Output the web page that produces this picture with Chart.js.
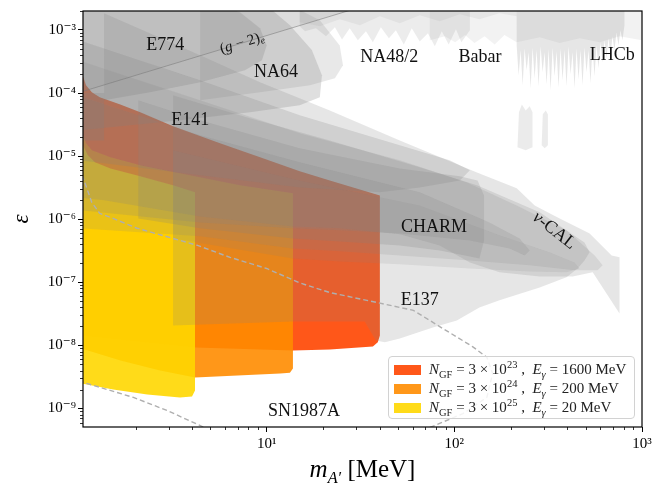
<!DOCTYPE html>
<html><head><meta charset="utf-8">
<script src="https://cdn.jsdelivr.net/npm/chart.js@4.4.1/dist/chart.umd.min.js"></script>
<style>
html,body{margin:0;padding:0;background:#fff;}
#wrap{position:relative;width:664px;height:496px;overflow:hidden;}
#xtitle{position:absolute;left:83px;width:559px;top:454px;text-align:center;font-family:'Liberation Serif',serif;font-size:25px;line-height:30px;color:#000;}
#xtitle sub{font-size:65%;line-height:0;vertical-align:-0.35em;}
#legend{position:absolute;left:388px;top:356px;width:247px;height:63px;box-sizing:border-box;border:1px solid #d2d2d2;border-radius:4px;background:rgba(255,255,255,0.85);font-family:'Liberation Serif',serif;font-size:15px;color:#222;}
#legend .row{position:absolute;left:5px;height:19px;display:flex;align-items:center;white-space:nowrap;}
#legend .sw{display:inline-block;width:27px;height:10px;margin-right:8px;}
#legend sub,#legend sup{font-size:70%;line-height:0;}
</style></head><body>
<div id="wrap">
<canvas id="c" width="664" height="496"></canvas>
<div id="xtitle"><i>m</i><sub><i>A′</i></sub> [MeV]</div>
<div id="legend">
 <div class="row" style="top:3px"><span class="sw" style="background:rgba(255,69,0,0.9)"></span><span><i>N</i><sub>GF</sub> = 3 × 10<sup>23</sup> , &nbsp;<i>E</i><sub><i>γ</i></sub> = 1600 MeV</span></div>
 <div class="row" style="top:22px"><span class="sw" style="background:rgba(255,140,0,0.9)"></span><span><i>N</i><sub>GF</sub> = 3 × 10<sup>24</sup> , &nbsp;<i>E</i><sub><i>γ</i></sub> = 200 MeV</span></div>
 <div class="row" style="top:41px"><span class="sw" style="background:rgba(255,215,0,0.9)"></span><span><i>N</i><sub>GF</sub> = 3 × 10<sup>25</sup> , &nbsp;<i>E</i><sub><i>γ</i></sub> = 20 MeV</span></div>
</div>
</div>
<script>
// ---------- axes ----------
const X_MIN = 1.05, X_MAX = 1000, Y_MIN = 5.1e-10, Y_MAX = 2.0e-3;
const xMajor = [10, 100, 1000];
const xMajorLabels = ['10¹', '10²', '10³'];
const yMajor = [1e-9, 1e-8, 1e-7, 1e-6, 1e-5, 1e-4, 1e-3];
const yMajorLabels = ['10⁻⁹', '10⁻⁸', '10⁻⁷', '10⁻⁶', '10⁻⁵', '10⁻⁴', '10⁻³'];

// ---------- projected sensitivity regions [m (MeV), epsilon] ----------
const regionN23 = [[1.0,1.9e-4],[1.05,1.85e-4],[1.09,1.33e-4],[1.17,1.03e-4],[1.29,8.6e-5],[1.66,6.6e-5],[2.12,4.95e-5],[3.17,2.97e-5],[5.64,1.6e-5],[9.22,9.6e-6],[15.0,5.75e-6],[21.7,4.1e-6],[40.1,2.39e-6],[40.1,1.44e-8],[39.1,1.12e-8],[36.8,9.6e-9],[21.7,8.6e-9],[13.8,8.3e-9],[4.15,9.3e-9],[1.0,1.45e-8]];
const regionN24 = [[1.0,2.3e-5],[1.05,2.14e-5],[1.09,1.6e-5],[1.17,1.24e-5],[1.47,9.6e-6],[2.12,7.2e-6],[3.45,5.35e-6],[7.21,3.45e-6],[13.8,2.58e-6],[13.8,4.3e-9],[13.3,3.7e-9],[11.8,3.6e-9],[4.15,3.1e-9],[2.7,4.0e-9],[1.66,5.8e-9],[1.0,9.2e-9]];
const regionN25 = [[1.0,1.6e-5],[1.05,1.49e-5],[1.114,1.03e-5],[1.216,7.98e-6],[1.47,6.4e-6],[2.12,4.8e-6],[3.17,3.45e-6],[4.15,2.67e-6],[4.15,1.93e-9],[4.0,1.55e-9],[3.45,1.5e-9],[2.31,1.67e-9],[1.52,2.0e-9],[1.0,2.55e-9]];

// ---------- existing bounds [m (MeV), epsilon] ----------
const boundE137 = [[3.17,9.2e-5],[8.15,3.98e-5],[21.7,1.78e-5],[65.4,6.65e-6],[132,3.45e-6],[285,1.29e-6],[494,4.3e-7],[526,2.99e-7],[494,2.23e-7],[454,1.66e-7],[396,1.2e-7],[285,8.3e-8],[174,5.2e-8],[136,4.0e-8],[103,2.49e-8],[76.8,1.93e-8],[51.2,1.29e-8],[42.6,1.12e-8],[38.2,1.2e-8],[35.5,1.73e-8],[33.3,2.4e-8],[13.8,2.4e-8],[3.17,2.08e-8]];
const boundNuCal = [[1.36,3e-3],[1.36,1.84e-3],[4.42,3.97e-4],[9.22,1.48e-4],[21.7,5.3e-5],[51.2,1.78e-5],[132,5.5e-6],[215,3.09e-6],[268,1.66e-6],[364,1.03e-6],[526,5.97e-7],[689,2.67e-7],[759,2.49e-7],[759,3.22e-8],[546,1.44e-7],[427,1.24e-7],[285,1.24e-7],[174,1.44e-7],[121,2.07e-7],[83.6,3.85e-7],[51.2,5.77e-7],[24.5,7.2e-7],[13.8,7.7e-7],[4.42,1.11e-6],[1.36,2.0e-6],[1.0,2.2e-6],[1.0,1.0e-4],[1.36,1.0e-4]];
const boundBandC = [[1.0,3.3e-4],[4.42,7.7e-5],[15.0,2.3e-5],[51.2,8.6e-6],[116,3.85e-6],[215,1.66e-6],[396,6.7e-7],[560,2.67e-7],[617,1.86e-7],[580,1.55e-7],[437,1.55e-7],[252,1.86e-7],[121,2.23e-7],[51.2,2.67e-7],[24.5,3.1e-7],[13.8,3.45e-7],[4.42,5.36e-7],[1.0,7.2e-7]];
const boundCHARM = [[2.07,7.7e-5],[4.42,3.7e-5],[15.0,1.33e-5],[51.2,6.4e-6],[107,4.8e-6],[133,4.1e-6],[144,2.39e-6],[144,4.6e-7],[136,2.4e-7],[121,2.58e-7],[83.6,3.2e-7],[51.2,3.85e-7],[24.5,4.45e-7],[13.8,4.97e-7],[4.42,7.2e-7],[2.07,1.03e-6]];
const boundInner = [[1.0,9.0e-5],[4.42,2.14e-5],[15.0,7.98e-6],[65.4,2.67e-6],[154,8.9e-7],[223,4.97e-7],[252,3.2e-7],[237,2.67e-7],[197,3.45e-7],[121,4.6e-7],[51.2,5.97e-7],[24.5,6.7e-7],[13.8,7.2e-7],[4.42,8.9e-7],[1.0,1.4e-6]];
const boundTip = [[3.17,1.24e-5],[15.0,4.1e-6],[65.4,1.66e-6],[174,5.6e-7],[322,2.99e-7],[437,2.07e-7],[465,1.66e-7],[396,1.44e-7],[252,1.49e-7],[121,1.66e-7],[51.2,1.93e-7],[24.5,2.15e-7],[13.8,2.4e-7],[3.17,4.97e-7]];
const boundE141 = [[1.0,6.9e-4],[4.42,1.6e-4],[15.0,4.45e-5],[51.2,1.49e-5],[94.4,8.6e-6],[121,6.0e-6],[107,4.1e-6],[65.4,3.2e-6],[40.1,2.67e-6],[15.0,3.2e-6],[4.42,4.97e-6],[1.36,7.7e-6],[1.0,8.6e-6]];
const boundE774 = [[1.36,3e-3],[4.42,3e-3],[7.21,1.91e-3],[9.22,1.07e-3],[10.0,5.7e-4],[9.44,3.3e-4],[7.66,2.3e-4],[4.42,1.48e-4],[2.39,1.03e-4],[1.36,7.7e-5]];
const boundNA64a = [[1.0,3e-3],[9.22,3e-3],[13.3,1.19e-3],[17.4,4.8e-4],[19.7,1.91e-4],[19.2,8.6e-5],[15.0,6.4e-5],[8.15,4.95e-5],[3.45,3.7e-5],[1.0,2.57e-5]];
const boundNA64b = [[4.42,3e-3],[11.8,3e-3],[19.2,1.43e-3],[24.5,5.7e-4],[25.5,2.76e-4],[23.1,1.72e-4],[17.0,1.33e-4],[9.22,1.03e-4],[4.42,7.7e-5]];
const boundLeft = [[1.0,3e-3],[1.36,3e-3],[1.36,1.78e-5],[1.0,1.78e-5]];
const boundG2 = [[1.0,1.02e-4],[30,2.2e-3],[30,3e-3],[1.0,3e-3]];
const lineG2 = [[1.0,1.02e-4],[30,2.2e-3]];
const boundNA48 = [[15.0,3e-3],[121,3e-3],[121,9.9e-4],[109,6.4e-4],[102,1.03e-3],[93.3,5.9e-4],[85.7,9.55e-4],[78.7,5.5e-4],[72.3,8.9e-4],[65.4,6.6e-4],[59.3,1.07e-3],[53.8,5.9e-4],[48.8,9.9e-4],[44.8,7.4e-4],[40.6,1.11e-3],[36.8,6.4e-4],[33.8,9.55e-4],[30.6,6.9e-4],[27.7,1.07e-3],[25.2,7.1e-4],[23.1,1.11e-3],[20.7,7.96e-4],[18.3,1.07e-3],[16.0,9.55e-4],[15.0,1.15e-3]];
const boundNA48top = [[15.0,3e-3],[215,3e-3],[215,1.65e-3],[174,1.84e-3],[136,1.48e-3],[107,1.78e-3],[83.6,1.38e-3],[65.4,1.71e-3],[51.2,1.28e-3],[40.1,1.65e-3],[31.4,1.19e-3],[24.5,1.48e-3],[19.2,1.15e-3],[15.0,1.33e-3]];
const boundBabar = [[74,3e-3],[1000,3e-3],[1000,6.9e-4],[759,7.96e-4],[594,6.4e-4],[465,7.4e-4],[364,6.2e-4],[285,7.7e-4],[215,6.4e-4],[185,8.3e-4],[164,5.9e-4],[145,7.96e-4],[128,6.2e-4],[114,8.3e-4],[101,6.4e-4],[89,7.96e-4],[74,6.9e-4]];
const boundLHCb = [[214.8,3e-3],[806.4,3e-3],[806.4,1.19e-3],[786.9,6.9e-4],[767.8,9.9e-4],[749.2,5.73e-4],[731.1,9.2e-4],[713.4,4.8e-4],[696.1,7.96e-4],[679.3,3.97e-4],[662.8,7.4e-4],[646.8,3.56e-4],[631.1,6.9e-4],[615.9,3.08e-4],[601.0,6.4e-4],[586.4,2.47e-4],[572.2,5.73e-4],[558.4,1.85e-4],[544.9,5.5e-4],[531.7,1.43e-4],[518.8,4.8e-4],[506.3,2.14e-4],[494.0,5.3e-4],[482.1,1.33e-4],[470.4,4.8e-4],[459.0,1.66e-4],[447.9,5.1e-4],[437.1,1.19e-4],[426.5,4.43e-4],[416.2,1.99e-4],[406.1,5.5e-4],[396.3,1.28e-4],[386.7,4.8e-4],[377.3,1.6e-4],[368.2,5.1e-4],[359.3,1.24e-4],[350.6,4.6e-4],[342.1,1.85e-4],[333.9,5.3e-4],[325.8,1.11e-4],[317.9,4.95e-4],[310.2,1.38e-4],[302.7,4.43e-4],[295.4,2.14e-4],[288.2,5.5e-4],[281.2,1.28e-4],[274.4,4.8e-4],[267.8,1.72e-4],[261.3,5.3e-4],[255.0,1.19e-4],[248.8,4.43e-4],[242.8,2.3e-4],[236.9,5.1e-4],[231.2,1.33e-4],[225.6,4.8e-4],[220.1,1.91e-4],[214.8,5.73e-4]];
const boundLHCbIsl1 = [[217,1.38e-5],[221,4.95e-5],[229,6.6e-5],[240,5.3e-5],[252,6.2e-5],[261,4.95e-5],[261,1.38e-5],[240,1.24e-5]];
const boundLHCbIsl2 = [[292,1.49e-5],[296,4.6e-5],[307,5.3e-5],[315,4.6e-5],[315,1.49e-5],[303,1.33e-5]];
const lineSNupper = [[1.0,6.5e-6],[1.05,4.6e-6],[1.17,1.85e-6],[1.29,1.24e-6],[1.52,1.03e-6],[2.04,7.2e-7],[3.17,4.97e-7],[4.28,3.85e-7],[6.38,2.49e-7],[10,1.66e-7],[15,9.8e-8],[21.7,6.9e-8],[38.6,4.8e-8],[60.5,3.6e-8],[86.7,1.86e-8],[125,9.6e-9],[149,6.5e-9],[160,3.6e-9],[149,1.5e-9],[111,8.3e-10],[74,5e-10],[51,3.2e-10]];
const lineSNlower = [[1.0,2.8e-9],[1.05,2.6e-9],[1.30,2.16e-9],[1.95,1.5e-9],[2.95,9.3e-10],[4.4,5.4e-10],[5.3,4.2e-10]];

// ---------- region labels ----------
const labelText = ['E774', 'NA64', 'E141', 'NA48/2', 'Babar', 'LHCb', 'CHARM', 'E137', 'SN1987A'];
const labelMass = [2.88, 11.2, 3.92, 45, 137, 695, 78, 65.4, 15.8];
const labelEps = [5.7e-4, 2.14e-4, 3.7e-5, 3.7e-4, 3.7e-4, 4.0e-4, 7.4e-7, 5.2e-8, 9.0e-10];

const GRAY = a => `rgba(128,128,128,${a})`;
const layers = [
  {d: regionN23, c: 'rgba(255,69,0,0.9)'},
  {d: regionN24, c: 'rgba(255,140,0,0.9)'},
  {d: regionN25, c: 'rgba(255,215,0,0.9)'},
  {d: boundE137, c: GRAY(0.2)},
  {d: boundTip, c: GRAY(0.14)},
  {d: boundBandC, c: GRAY(0.17)},
  {d: boundCHARM, c: GRAY(0.21)},
  {d: boundInner, c: GRAY(0.2)},
  {d: boundNuCal, c: GRAY(0.2)},
  {d: boundE141, c: GRAY(0.22)},
  {d: boundLeft, c: GRAY(0.25)},
  {d: boundNA64a, c: GRAY(0.25)},
  {d: boundNA64b, c: GRAY(0.18)},
  {d: boundE774, c: GRAY(0.25)},
  {d: boundG2, c: GRAY(0.12)},
  {d: boundNA48, c: GRAY(0.15)},
  {d: boundNA48top, c: GRAY(0.1)},
  {d: boundBabar, c: GRAY(0.1)},
  {d: boundLHCb, c: GRAY(0.2)},
  {d: boundLHCbIsl1, c: GRAY(0.16)},
  {d: boundLHCbIsl2, c: GRAY(0.16)}
];
const toXY = arr => arr.map(p => ({x: p[0], y: p[1]}));
const datasets = [];
layers.forEach((l, i) => datasets.push({
  data: toXY(l.d), backgroundColor: l.c, borderColor: 'rgba(0,0,0,0)', borderWidth: 0,
  fill: 'shape', pointRadius: 0, tension: 0, order: 1000 - i
}));
const lines = [
  {d: lineG2, c: 'rgba(120,120,120,0.55)', w: 1, dash: []},
  {d: lineSNupper, c: 'rgba(175,175,175,1)', w: 1.4, dash: [5, 3]},
  {d: lineSNlower, c: 'rgba(175,175,175,1)', w: 1.4, dash: [5, 3]}
];
lines.forEach((l, i) => datasets.push({
  data: toXY(l.d), borderColor: l.c, borderWidth: l.w, borderDash: l.dash, fill: false,
  pointRadius: 0, tension: 0, order: 100 - i
}));

function logTicks(min, max) {
  const out = [];
  for (let e = Math.floor(Math.log10(min)); e <= Math.ceil(Math.log10(max)); e++) {
    for (let k = 1; k <= 9; k++) {
      const v = k * Math.pow(10, e);
      if (v >= min * 0.9999 && v <= max * 1.0001) out.push({value: v, major: k === 1});
    }
  }
  return out;
}
function labelFor(v, majors, labels) {
  const i = majors.findIndex(m => Math.abs(v / m - 1) < 1e-6);
  return i >= 0 ? labels[i] : '';
}
const SERIF = "'Liberation Serif', 'DejaVu Serif', serif";

const framePlugin = {
  id: 'frame',
  afterDatasetsDraw(chart) {
    const {ctx, chartArea: a} = chart;
    ctx.save();
    ctx.strokeStyle = '#000'; ctx.lineWidth = 1.2;
    ctx.strokeRect(a.left, a.top, a.right - a.left, a.bottom - a.top);
    ctx.restore();
  }
};
function drawRuns(ctx, runs, x, y, rot) {
  ctx.save();
  ctx.translate(x, y); ctx.rotate(rot * Math.PI / 180);
  ctx.textBaseline = 'middle'; ctx.fillStyle = '#111';
  let w = 0;
  runs.forEach(r => { ctx.font = r.f; w += ctx.measureText(r.t).width; });
  let cx = -w / 2;
  runs.forEach(r => { ctx.font = r.f; ctx.fillText(r.t, cx, r.dy || 0); cx += ctx.measureText(r.t).width; });
  ctx.restore();
}
const labelPlugin = {
  id: 'labels',
  afterDatasetsDraw(chart) {
    const {ctx} = chart; const xs = chart.scales.x, ys = chart.scales.y;
    ctx.save();
    ctx.font = `18px ${SERIF}`; ctx.fillStyle = '#111'; ctx.textAlign = 'center'; ctx.textBaseline = 'middle';
    labelText.forEach((t, i) => ctx.fillText(t, xs.getPixelForValue(labelMass[i]), ys.getPixelForValue(labelEps[i])));
    ctx.textAlign = 'left';
    drawRuns(ctx, [
      {t: '(', f: `15px ${SERIF}`}, {t: 'g', f: `italic 15px ${SERIF}`}, {t: ' − 2)', f: `15px ${SERIF}`},
      {t: 'e', f: `italic 10px ${SERIF}`, dy: 4}
    ], xs.getPixelForValue(7.4), ys.getPixelForValue(6.2e-4), -17);
    drawRuns(ctx, [{t: 'ν', f: `italic 18px ${SERIF}`}, {t: '-CAL', f: `18px ${SERIF}`}],
      xs.getPixelForValue(340), ys.getPixelForValue(6.6e-7), 38);
    ctx.restore();
  }
};
const minorTickPlugin = {
  id: 'minorTicks',
  afterDraw(chart) {
    const {ctx, chartArea: a} = chart;
    ctx.save(); ctx.strokeStyle = '#000'; ctx.lineWidth = 0.8;
    chart.scales.x.ticks.forEach(t => { if (t.major) return;
      const p = Math.round(chart.scales.x.getPixelForValue(t.value)) + 0.5;
      ctx.beginPath(); ctx.moveTo(p, a.bottom); ctx.lineTo(p, a.bottom + 3); ctx.stroke(); });
    chart.scales.y.ticks.forEach(t => { if (t.major) return;
      const p = Math.round(chart.scales.y.getPixelForValue(t.value)) + 0.5;
      ctx.beginPath(); ctx.moveTo(a.left, p); ctx.lineTo(a.left - 3, p); ctx.stroke(); });
    ctx.restore();
  }
};

new Chart(document.getElementById('c'), {
  type: 'line',
  data: {datasets},
  options: {
    responsive: false, animation: false, events: [],
    layout: {padding: {left: 0, right: 22, top: 11, bottom: 0}},
    plugins: {legend: {display: false}, tooltip: {enabled: false}},
    scales: {
      x: {
        type: 'logarithmic', min: X_MIN, max: X_MAX,
        afterBuildTicks: s => { s.ticks = logTicks(X_MIN, X_MAX); },
        afterFit: s => { s.height = 69; },
        ticks: {autoSkip: false, maxRotation: 0, padding: 3, color: '#000',
          font: {family: SERIF, size: 15}, callback: v => labelFor(v, xMajor, xMajorLabels)},
        grid: {drawOnChartArea: false, drawTicks: true, tickLength: 5, tickWidth: 1,
          tickColor: c => (c.tick && c.tick.major) ? '#000' : 'rgba(0,0,0,0)', color: 'rgba(0,0,0,0)'},
        border: {display: false}
      },
      y: {
        type: 'logarithmic', min: Y_MIN, max: Y_MAX,
        afterBuildTicks: s => { s.ticks = logTicks(Y_MIN, Y_MAX); },
        afterFit: s => { s.width = 83; },
        ticks: {autoSkip: false, padding: 2, color: '#000',
          font: {family: SERIF, size: 15}, callback: v => labelFor(v, yMajor, yMajorLabels)},
        grid: {drawOnChartArea: false, drawTicks: true, tickLength: 5, tickWidth: 1,
          tickColor: c => (c.tick && c.tick.major) ? '#000' : 'rgba(0,0,0,0)', color: 'rgba(0,0,0,0)'},
        border: {display: false},
        title: {display: true, text: 'ε', color: '#000', padding: {top: 8, bottom: 0},
          font: {family: SERIF, size: 23, style: 'italic'}}
      }
    }
  },
  plugins: [framePlugin, labelPlugin, minorTickPlugin]
});
</script>
</body></html>
